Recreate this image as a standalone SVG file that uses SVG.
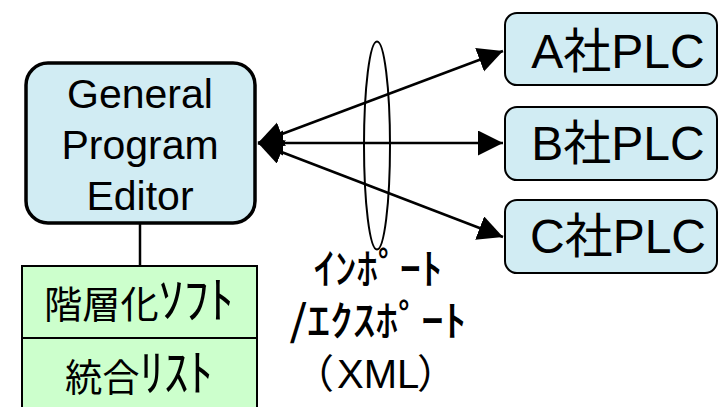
<svg xmlns="http://www.w3.org/2000/svg" width="718" height="407" viewBox="0 0 718 407">
<style>
.blue{fill:#D1ECF3;stroke:#000}
.green{fill:#CCFFCC;stroke:#000;stroke-width:2}
.lat{font-family:"Liberation Sans",Arial,sans-serif;fill:#000;text-anchor:middle}
.jp{font-family:"Liberation Sans","Noto Sans CJK JP",sans-serif;fill:#000;text-anchor:middle}
.kana{font-family:"Noto Sans CJK JP",sans-serif;font-weight:500;fill:#000;text-anchor:middle}
.conn{stroke:#000;stroke-width:2.5;fill:none}
</style>
<defs>
<marker id="ah" markerUnits="userSpaceOnUse" markerWidth="26" markerHeight="26" refX="25" refY="12.5" orient="auto-start-reverse" viewBox="0 0 26 26">
<path d="M0,0 L25,12.5 L0,25 Z" fill="#000"/>
</marker>
</defs>
<rect width="718" height="407" fill="#fff"/>
<g id="connectors">
<line class="conn" x1="140" y1="223" x2="140" y2="266"/>
<line class="conn" x1="258" y1="143" x2="503" y2="51" marker-start="url(#ah)" marker-end="url(#ah)"/>
<line class="conn" x1="258" y1="143" x2="503" y2="143" marker-start="url(#ah)" marker-end="url(#ah)"/>
<line class="conn" x1="258" y1="143" x2="503" y2="237" marker-start="url(#ah)" marker-end="url(#ah)"/>
<ellipse cx="377" cy="145.5" rx="13" ry="104" fill="none" stroke="#000" stroke-width="2"/>
</g>
<g id="gpe">
<rect class="blue" x="26" y="63" width="229" height="160" rx="22" stroke-width="3.5"/>
<text class="lat" font-size="41"><tspan x="140" y="108">General</tspan><tspan x="140" y="159">Program</tspan><tspan x="140" y="210">Editor</tspan></text>
</g>
<g id="stack">
<rect class="green" x="22" y="266" width="235" height="72"/>
<rect class="green" x="22" y="338" width="235" height="75"/>
<text class="jp" font-size="38" x="139" y="318" textLength="190" lengthAdjust="spacingAndGlyphs">階層化<tspan font-size="50">ｿﾌﾄ</tspan></text>
<text class="jp" font-size="38" x="139" y="391" textLength="148" lengthAdjust="spacingAndGlyphs">統合<tspan font-size="50">ﾘｽﾄ</tspan></text>
</g>
<g id="plcA">
<rect class="blue" x="505" y="13" width="212" height="72" rx="12" stroke-width="2"/>
<text class="jp" font-size="48" x="618" y="68">A社PLC</text>
</g>
<g id="plcB">
<rect class="blue" x="505" y="107" width="212" height="73" rx="12" stroke-width="2"/>
<text class="jp" font-size="48" x="618" y="160">B社PLC</text>
</g>
<g id="plcC">
<rect class="blue" x="505" y="200" width="212" height="73" rx="12" stroke-width="2"/>
<text class="jp" font-size="48" x="618" y="253">C社PLC</text>
</g>
<g id="label">
<text class="kana" font-size="42"><tspan x="378" y="284" textLength="129" lengthAdjust="spacingAndGlyphs">ｲﾝﾎﾟｰﾄ</tspan><tspan x="378" y="336" textLength="177" lengthAdjust="spacingAndGlyphs">/ｴｸｽﾎﾟｰﾄ</tspan></text>
<text class="jp" font-size="40" y="388" style="text-anchor:start"><tspan x="294">（</tspan><tspan x="337">XML</tspan><tspan x="417">）</tspan></text>
</g>
</svg>
